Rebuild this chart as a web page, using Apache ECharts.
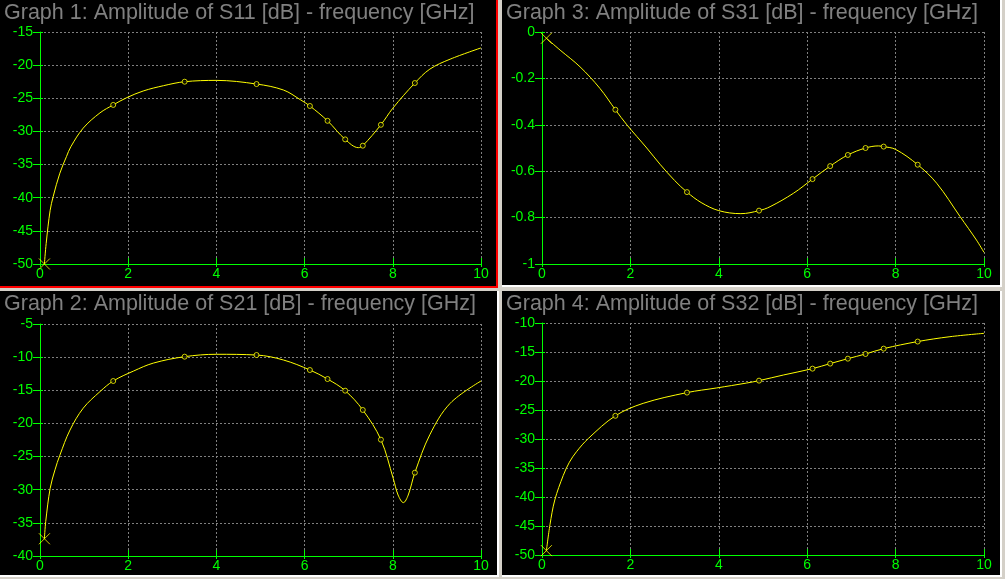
<!DOCTYPE html>
<html><head><meta charset="utf-8">
<script src="https://cdn.jsdelivr.net/npm/echarts@6/dist/echarts.min.js"></script>
<style>
html,body{margin:0;padding:0;background:#d4d0c8;width:1005px;height:579px;overflow:hidden;}
.panel{position:absolute;background:#000;}
#chart{position:absolute;left:0;top:0;width:1005px;height:579px;}
</style></head><body>
<div class="panel" style="left:0;top:0;width:496px;height:286px;border-right:2px solid #ff0000;border-bottom:2px solid #ff0000;"></div>
<div class="panel" style="left:502px;top:0;width:498px;height:285px;border-right:2px solid #ffffff;border-bottom:2px solid #ffffff;"></div>
<div class="panel" style="left:0;top:291px;width:497px;height:284px;border-right:2px solid #ffffff;border-bottom:2px solid #ffffff;"></div>
<div class="panel" style="left:502px;top:291px;width:498px;height:284px;border-right:2px solid #ffffff;border-bottom:2px solid #ffffff;"></div>
<div id="chart"></div>
<script>
// ---------------- data ----------------
const titles = [
  'Graph 1: Amplitude of S11 [dB] - frequency [GHz]',
  'Graph 2: Amplitude of S21 [dB] - frequency [GHz]',
  'Graph 3: Amplitude of S31 [dB] - frequency [GHz]',
  'Graph 4: Amplitude of S32 [dB] - frequency [GHz]'
];
const xTicks = [0, 2, 4, 6, 8, 10];
const yRanges = [[-50, -15, 5], [-40, -5, 5], [-1, 0, 0.2], [-50, -10, 5]];

const sampleFreq = [0.1, 1.66, 3.28, 4.91, 6.12, 6.52, 6.92, 7.32, 7.73, 8.5];

const s11Freq = [0.1, 0.14, 0.23, 0.3, 0.45, 0.6, 0.7, 0.98, 1.36, 1.66, 1.97, 2.34, 2.8, 3.28, 4.0, 4.91, 5.52, 5.9, 6.12, 6.52, 6.92, 7.22, 7.32, 7.73, 8.0, 8.5, 8.84, 9.3, 10];
const s11Val  = [-50, -46.9, -41.9, -39.8, -36.3, -33.8, -32.3, -29.5, -27.2, -26.0, -24.9, -23.9, -23.1, -22.5, -22.3, -22.85, -23.75, -25.2, -26.16, -28.4, -31.2, -32.45, -32.15, -29.0, -26.5, -22.7, -20.6, -19.1, -17.4];
const s11Samples = [-50, -26.0, -22.5, -22.85, -26.16, -28.4, -31.2, -32.15, -29.0, -22.7];

const s21Freq = [0.1, 0.13, 0.23, 0.34, 0.45, 0.68, 0.98, 1.36, 1.66, 2.12, 2.57, 3.28, 4.0, 4.91, 5.52, 6.12, 6.52, 6.92, 7.32, 7.73, 8.01, 8.12, 8.24, 8.35, 8.5, 8.84, 9.3, 10];
const s21Val  = [-37.4, -34.8, -29.8, -27.0, -24.8, -21.0, -17.7, -15.2, -13.6, -12.1, -10.9, -9.93, -9.57, -9.68, -10.43, -11.94, -13.3, -15.06, -17.97, -22.45, -28.3, -30.8, -31.95, -30.8, -27.43, -21.7, -16.97, -13.6];
const s21Samples = [-37.4, -13.6, -9.93, -9.68, -11.94, -13.3, -15.06, -17.97, -22.45, -27.43];

const s31Freq = [0.1, 0.41, 0.86, 1.31, 1.66, 1.92, 2.37, 2.67, 3.0, 3.28, 3.6, 4.0, 4.5, 4.91, 5.16, 5.69, 6.12, 6.52, 6.92, 7.32, 7.61, 7.73, 8.0, 8.5, 8.93, 9.46, 9.83, 10];
const s31Val  = [-0.027, -0.078, -0.15, -0.243, -0.335, -0.40, -0.50, -0.57, -0.64, -0.69, -0.735, -0.77, -0.783, -0.770, -0.753, -0.695, -0.634, -0.578, -0.530, -0.50, -0.491, -0.494, -0.506, -0.572, -0.652, -0.796, -0.897, -0.95];
const s31Samples = [-0.027, -0.335, -0.69, -0.770, -0.634, -0.578, -0.530, -0.50, -0.494, -0.572];

const s32Freq = [0.1, 0.18, 0.29, 0.48, 0.62, 0.78, 1.05, 1.66, 2.29, 3.28, 3.95, 4.63, 4.91, 5.46, 6.12, 6.52, 6.92, 7.32, 7.73, 8.5, 9.23, 10];
const s32Val  = [-49.25, -44.8, -40.5, -36.3, -34.0, -32.2, -29.9, -26.0, -23.85, -22.0, -21.2, -20.35, -19.94, -18.97, -17.87, -17.0, -16.15, -15.34, -14.42, -13.2, -12.36, -11.78];
const s32Samples = [-49.25, -26.0, -22.0, -19.94, -17.87, -17.0, -16.15, -15.34, -14.42, -13.2];

// ---------------- layout / style ----------------
const curves = [[s11Freq, s11Val, s11Samples], [s21Freq, s21Val, s21Samples], [s31Freq, s31Val, s31Samples], [s32Freq, s32Val, s32Samples]];
const gridPos = [
  {left: 40, top: 32, width: 441, height: 232},
  {left: 40, top: 324, width: 441, height: 232},
  {left: 542, top: 32, width: 442, height: 232},
  {left: 542, top: 323, width: 442, height: 232}
];
const titlePos = [{left: 4, top: 2}, {left: 4, top: 293}, {left: 506, top: 2}, {left: 506, top: 293}];

const GREEN = '#00ff00', YELLOW = '#ffff00', GRID = '#808080';
const FONT = '"Liberation Sans", Arial, sans-serif';
const TICKFONT = '"Liberation Sans Narrow", "Liberation Sans", Arial, sans-serif';
const pairs = (xs, ys) => xs.map((x, i) => [x, ys[i]]);

const option = {
  backgroundColor: 'transparent',
  animation: false,
  title: titles.map((t, i) => ({
    text: t, left: titlePos[i].left, top: titlePos[i].top, padding: 0,
    textStyle: {color: '#808080', fontSize: 21.5, fontWeight: 'normal', fontFamily: FONT}
  })),
  grid: gridPos.map(g => Object.assign({containLabel: false, outerBoundsMode: 'none'}, g)),
  xAxis: [], yAxis: [], series: []
};

gridPos.forEach((g, i) => {
  option.xAxis.push({
    type: 'value', gridIndex: i, position: 'bottom', min: xTicks[0], max: xTicks[xTicks.length - 1], interval: xTicks[1] - xTicks[0],
    axisLine: {show: true, onZero: false, lineStyle: {color: GREEN, width: 1}},
    axisTick: {show: true, inside: true, length: 6, lineStyle: {color: GREEN}},
    axisLabel: {show: true, color: GREEN, fontSize: 14, fontFamily: TICKFONT, margin: 3},
    splitLine: {show: true, lineStyle: {color: GRID, type: [2, 2], width: 1}}
  });
  option.xAxis.push({
    type: 'value', gridIndex: i, position: 'bottom', min: xTicks[0], max: xTicks[xTicks.length - 1], interval: xTicks[1] - xTicks[0],
    axisLine: {show: false, onZero: false}, axisLabel: {show: false}, splitLine: {show: false},
    axisTick: {show: true, inside: false, length: 3, lineStyle: {color: GREEN}}
  });
  const r = yRanges[i];
  option.yAxis.push({
    type: 'value', gridIndex: i, position: 'left', min: r[0], max: r[1], interval: r[2],
    axisLine: {show: true, onZero: false, lineStyle: {color: GREEN, width: 1}},
    axisTick: {show: true, inside: false, length: 7, lineStyle: {color: GREEN}},
    axisLabel: {show: true, color: GREEN, fontSize: 14, fontFamily: TICKFONT, margin: 7},
    splitLine: {show: true, lineStyle: {color: GRID, type: [2, 2], width: 1}}
  });
  option.yAxis.push({
    type: 'value', gridIndex: i, position: 'left', min: r[0], max: r[1], interval: r[2],
    axisLine: {show: false, onZero: false}, axisLabel: {show: false}, splitLine: {show: false},
    axisTick: {show: true, inside: true, length: 3, lineStyle: {color: GREEN}}
  });
  const [fx, fv, sv] = curves[i];
  option.series.push({
    type: 'line', xAxisIndex: 2 * i, yAxisIndex: 2 * i, data: pairs(fx, fv),
    showSymbol: false, smooth: 0.35,
    lineStyle: {color: YELLOW, width: 1}, z: 3, silent: true
  });
  option.series.push({
    type: 'scatter', xAxisIndex: 2 * i, yAxisIndex: 2 * i,
    data: pairs(sampleFreq.slice(1), sv.slice(1)),
    symbol: 'circle', symbolSize: 5,
    itemStyle: {color: '#000000', borderColor: YELLOW, borderWidth: 1}, z: 4, silent: true
  });
  option.series.push({
    type: 'scatter', xAxisIndex: 2 * i, yAxisIndex: 2 * i,
    data: pairs(sampleFreq.slice(0, 1), sv.slice(0, 1)),
    symbol: 'path://M0,0L10,10M10,0L0,10', symbolSize: 11,
    itemStyle: {color: 'rgba(0,0,0,0)', borderColor: YELLOW, borderWidth: 1}, z: 5, silent: true
  });
});

const chart = echarts.init(document.getElementById('chart'), null, {renderer: 'canvas'});
chart.setOption(option);
</script>
</body></html>
